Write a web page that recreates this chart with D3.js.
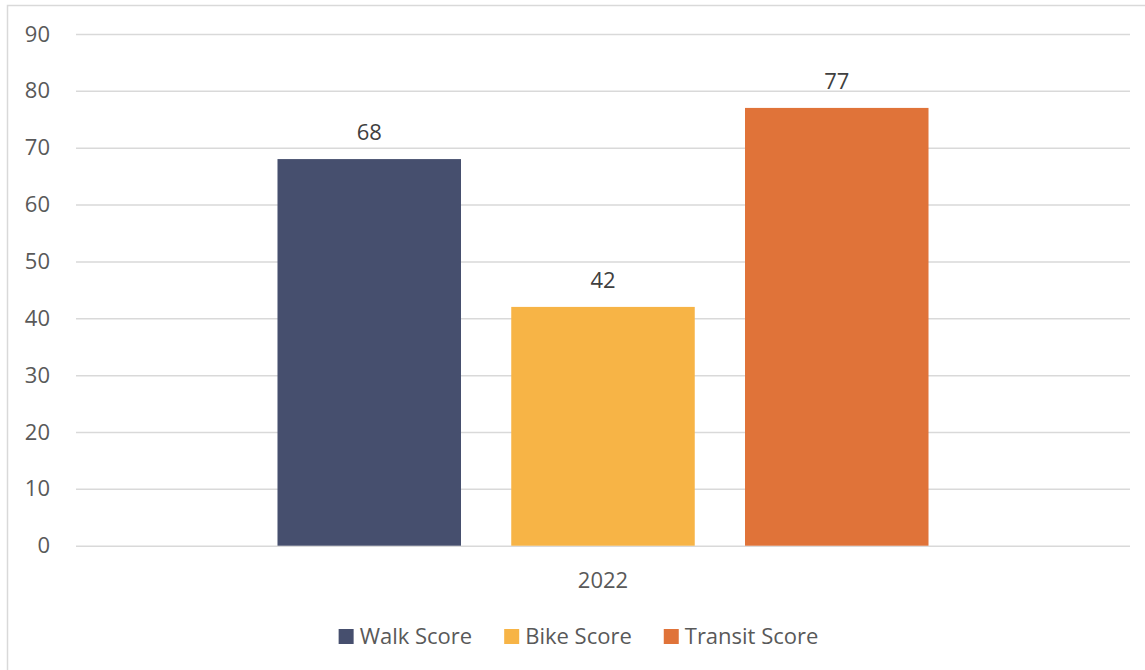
<!DOCTYPE html>
<head>
  <meta charset="utf-8">
  <style>
    body { margin: 0; background: #fff; }
    svg text { font-family: "Open Sans", "Noto Sans", sans-serif; }
    svg .grid line { stroke: #d9d9d9; stroke-width: 1.5px; }
    svg .tick text { font-size: 22px; fill: #595959; }
  </style>
</head>
<body>
<script src="https://d3js.org/d3.v7.min.js"></script>
<script>
  // data
  var categories = ["2022"];
  var seriesNames = ["Walk Score", "Bike Score", "Transit Score"];
  var seriesValues = [68, 42, 77];
  var seriesColors = ["#464f6e", "#f7b446", "#e07339"];
  var yTicks = [0, 10, 20, 30, 40, 50, 60, 70, 80, 90];

  var W = 1145, H = 670;
  var plot = { left: 76, right: 1130, top: 34, bottom: 545.7 };

  var svg = d3.select("body").append("svg")
      .attr("width", W)
      .attr("height", H);

  // chart border (only left and top are in view)
  svg.append("rect")
      .attr("x", 7.5).attr("y", 5.5)
      .attr("width", W).attr("height", H)
      .style("fill", "none")
      .style("stroke", "#d9d9d9")
      .style("stroke-width", "1.5px");

  var y = d3.scaleLinear().domain([0, 90]).range([plot.bottom, plot.top]);
  var x0 = d3.scaleBand().domain(categories).range([plot.left, plot.right]).paddingInner(0).paddingOuter(0.3095);
  var x1 = d3.scaleBand().domain(seriesNames).range([0, x0.bandwidth()]).paddingInner(0.215);

  // y axis with gridlines
  var yAxis = d3.axisLeft(y)
      .tickValues(yTicks)
      .tickSize(-(plot.right - plot.left))
      .tickPadding(26);

  svg.append("g")
      .classed("grid", true)
      .attr("transform", "translate(" + plot.left + ",0)")
      .call(yAxis)
      .call(function (g) { g.select(".domain").remove(); });

  // bars
  var bars = svg.append("g");
  categories.forEach(function (cat) {
    seriesNames.forEach(function (name, i) {
      var bx = x0(cat) + x1(name);
      bars.append("rect")
          .attr("x", bx)
          .attr("y", y(seriesValues[i]))
          .attr("width", x1.bandwidth())
          .attr("height", y(0) - y(seriesValues[i]))
          .style("fill", seriesColors[i]);

      bars.append("text")
          .attr("x", bx + x1.bandwidth() / 2)
          .attr("y", y(seriesValues[i]) - 19)
          .attr("text-anchor", "middle")
          .style("font-size", "22px")
          .style("fill", "#404040")
          .text(seriesValues[i]);
    });

    // category label
    svg.append("text")
        .attr("x", x0(cat) + x0.bandwidth() / 2)
        .attr("y", 588)
        .attr("text-anchor", "middle")
        .style("font-size", "22px")
        .style("fill", "#595959")
        .text(cat);
  });

  // legend
  var legend = svg.append("g");
  var lx = 0;
  seriesNames.forEach(function (name, i) {
    var item = legend.append("g").attr("transform", "translate(" + lx + ",0)");
    item.append("rect")
        .attr("x", 0).attr("y", 629)
        .attr("width", 15).attr("height", 15)
        .style("fill", seriesColors[i]);
    var t = item.append("text")
        .attr("x", 21).attr("y", 644)
        .style("font-size", "22px")
        .style("fill", "#595959")
        .text(name);
    lx += 21 + t.node().getComputedTextLength() + 32;
  });
  var legendWidth = lx - 32;
  legend.attr("transform", "translate(" + (578.5 - legendWidth / 2) + ",0)");
</script>
</body>
</html>
